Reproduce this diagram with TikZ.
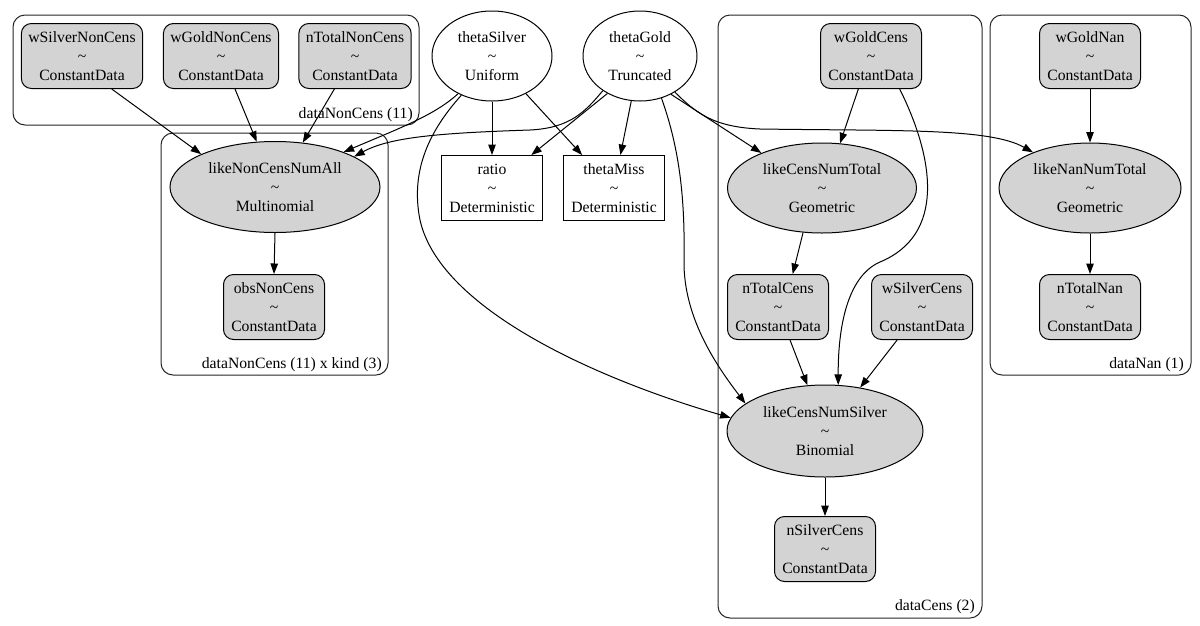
\documentclass[tikz,border=0pt]{standalone}
\usepackage{fontspec}
\setmainfont{Liberation Serif}
\usetikzlibrary{shapes.geometric,arrows.meta}
\definecolor{nodegray}{HTML}{D3D3D3}
\newcommand\rvtxt[2]{#1\\\textasciitilde\\#2}
\begin{document}
\begin{tikzpicture}[x=1pt,y=-1pt,
  font=\fontsize{15.7}{19}\selectfont,
  every node/.style={align=center, text=black},
  cdata/.style={rectangle, rounded corners=10pt, draw=black, line width=1pt, fill=nodegray, minimum height=65pt, minimum width=101pt, inner xsep=7pt, inner ysep=0pt},
  detbox/.style={rectangle, draw=black, line width=1pt, fill=white, minimum width=101pt, minimum height=65pt, inner sep=0pt},
  freerv/.style={ellipse, draw=black, line width=1pt, fill=white, inner sep=0pt, minimum height=90pt},
  obsrv/.style={ellipse, draw=black, line width=1pt, fill=nodegray, inner sep=0pt, minimum height=91pt},
  plate/.style={draw=black!85, line width=1pt, rounded corners=12pt},
  platelabel/.style={anchor=base east, inner sep=0pt},
  conn/.style={draw=black, line width=1pt, -{Triangle[length=10.5pt,width=7.5pt]}},
]
\useasboundingbox (0,0) rectangle (1200,625);
\fill[white] (0,0) rectangle (1200,625);

% plates
\draw[plate] (13,15) rectangle (419,125);
\node[platelabel] (lblA) at (413,118) {dataNonCens (11)};
\draw[plate] (161,133) rectangle (388,375);
\node[platelabel] (lblB) at (382,368) {dataNonCens (11) x kind (3)};
\draw[plate] (718,15) rectangle (982,618);
\node[platelabel] (lblC) at (975,610) {dataCens (2)};
\draw[plate] (990,15) rectangle (1191,375);
\node[platelabel] (lblD) at (1184,368) {dataNan (1)};

% nodes
\node[cdata] (wSN) at (82,56) {\rvtxt{wSilverNonCens}{ConstantData}};
\node[cdata] (wGN) at (221,56) {\rvtxt{wGoldNonCens}{ConstantData}};
\node[cdata] (nTNC) at (355,56) {\rvtxt{nTotalNonCens}{ConstantData}};
\node[freerv, minimum width=120pt] (thS) at (492,56) {\rvtxt{thetaSilver}{Uniform}};
\node[freerv, minimum width=114pt] (thG) at (640,56) {\rvtxt{thetaGold}{Truncated}};
\node[obsrv, minimum width=210pt] (lNCA) at (275,187) {\rvtxt{likeNonCensNumAll}{Multinomial}};
\node[cdata] (obs) at (274,307) {\rvtxt{obsNonCens}{ConstantData}};
\node[detbox] (ratio) at (492,188) {\rvtxt{ratio}{Deterministic}};
\node[detbox] (thM) at (614,188) {\rvtxt{thetaMiss}{Deterministic}};
\node[cdata] (wGC) at (871,56) {\rvtxt{wGoldCens}{ConstantData}};
\node[obsrv, minimum width=189pt, minimum height=90pt] (lCNT) at (822,188) {\rvtxt{likeCensNumTotal}{Geometric}};
\node[cdata] (nTC) at (778,307) {\rvtxt{nTotalCens}{ConstantData}};
\node[cdata] (wSC) at (922,307) {\rvtxt{wSilverCens}{ConstantData}};
\node[obsrv, minimum width=196pt, minimum height=92pt] (lCNS) at (825,431) {\rvtxt{likeCensNumSilver}{Binomial}};
\node[cdata] (nSC) at (825,549) {\rvtxt{nSilverCens}{ConstantData}};
\node[cdata] (wGNan) at (1090,56) {\rvtxt{wGoldNan}{ConstantData}};
\node[obsrv, minimum width=182pt, minimum height=90pt] (lNNT) at (1090,188) {\rvtxt{likeNanNumTotal}{Geometric}};
\node[cdata] (nTN) at (1090,307) {\rvtxt{nTotalNan}{ConstantData}};

% connectors
\draw[conn] (wSN.-48) -- (lNCA.156);
\draw[conn] (wGN.-67) -- (lNCA.112);
\draw[conn] (nTNC.-122) -- (lNCA.58);
\draw[conn] (thS.-132) .. controls (435,115) and (400,128) .. (lNCA.27);
\draw[conn] (thG.-137) .. controls (585,112) and (570,128) .. (530,130) .. controls (440,133) and (390,137) .. (lNCA.21);
\draw[conn] (thS.south) -- (ratio.north);
\draw[conn] (thS.-48) -- (thM.134);
\draw[conn] (thG.-131) -- (ratio.40);
\draw[conn] (thG.-101) -- (thM.79);
\draw[conn] (thG.-63) .. controls (680,150) and (685,200) .. (684,260) .. controls (683,320) and (720,370) .. (lCNS.161);
\draw[conn] (thS.-128) .. controls (430,130) and (410,170) .. (420,220) .. controls (440,310) and (600,380) .. (lCNS.172);
\draw[conn] (thG.-51) -- (lCNT.150);
\draw[conn] (thG.-46) .. controls (695,112) and (712,127) .. (760,129) .. controls (900,131) and (990,128) .. (lNNT.148);
\draw[conn] (wGC.-111) -- (lCNT.68);
\draw[conn] (wGC.-49) .. controls (935,160) and (945,235) .. (880,262) .. controls (850,275) and (838,320) .. (lCNS.74);
\draw[conn] (lCNT.-113) -- (nTC.66);
\draw[conn] (nTC.-70) -- (lCNS.111);
\draw[conn] (wSC.-127) -- (lCNS.51);
\draw[conn] (lCNS.south) -- (nSC.north);
\draw[conn] (wGNan.south) -- (lNNT.north);
\draw[conn] (lNNT.south) -- (nTN.north);
\draw[conn] (lNCA.south) -- (obs.north);
\end{tikzpicture}
\end{document}
